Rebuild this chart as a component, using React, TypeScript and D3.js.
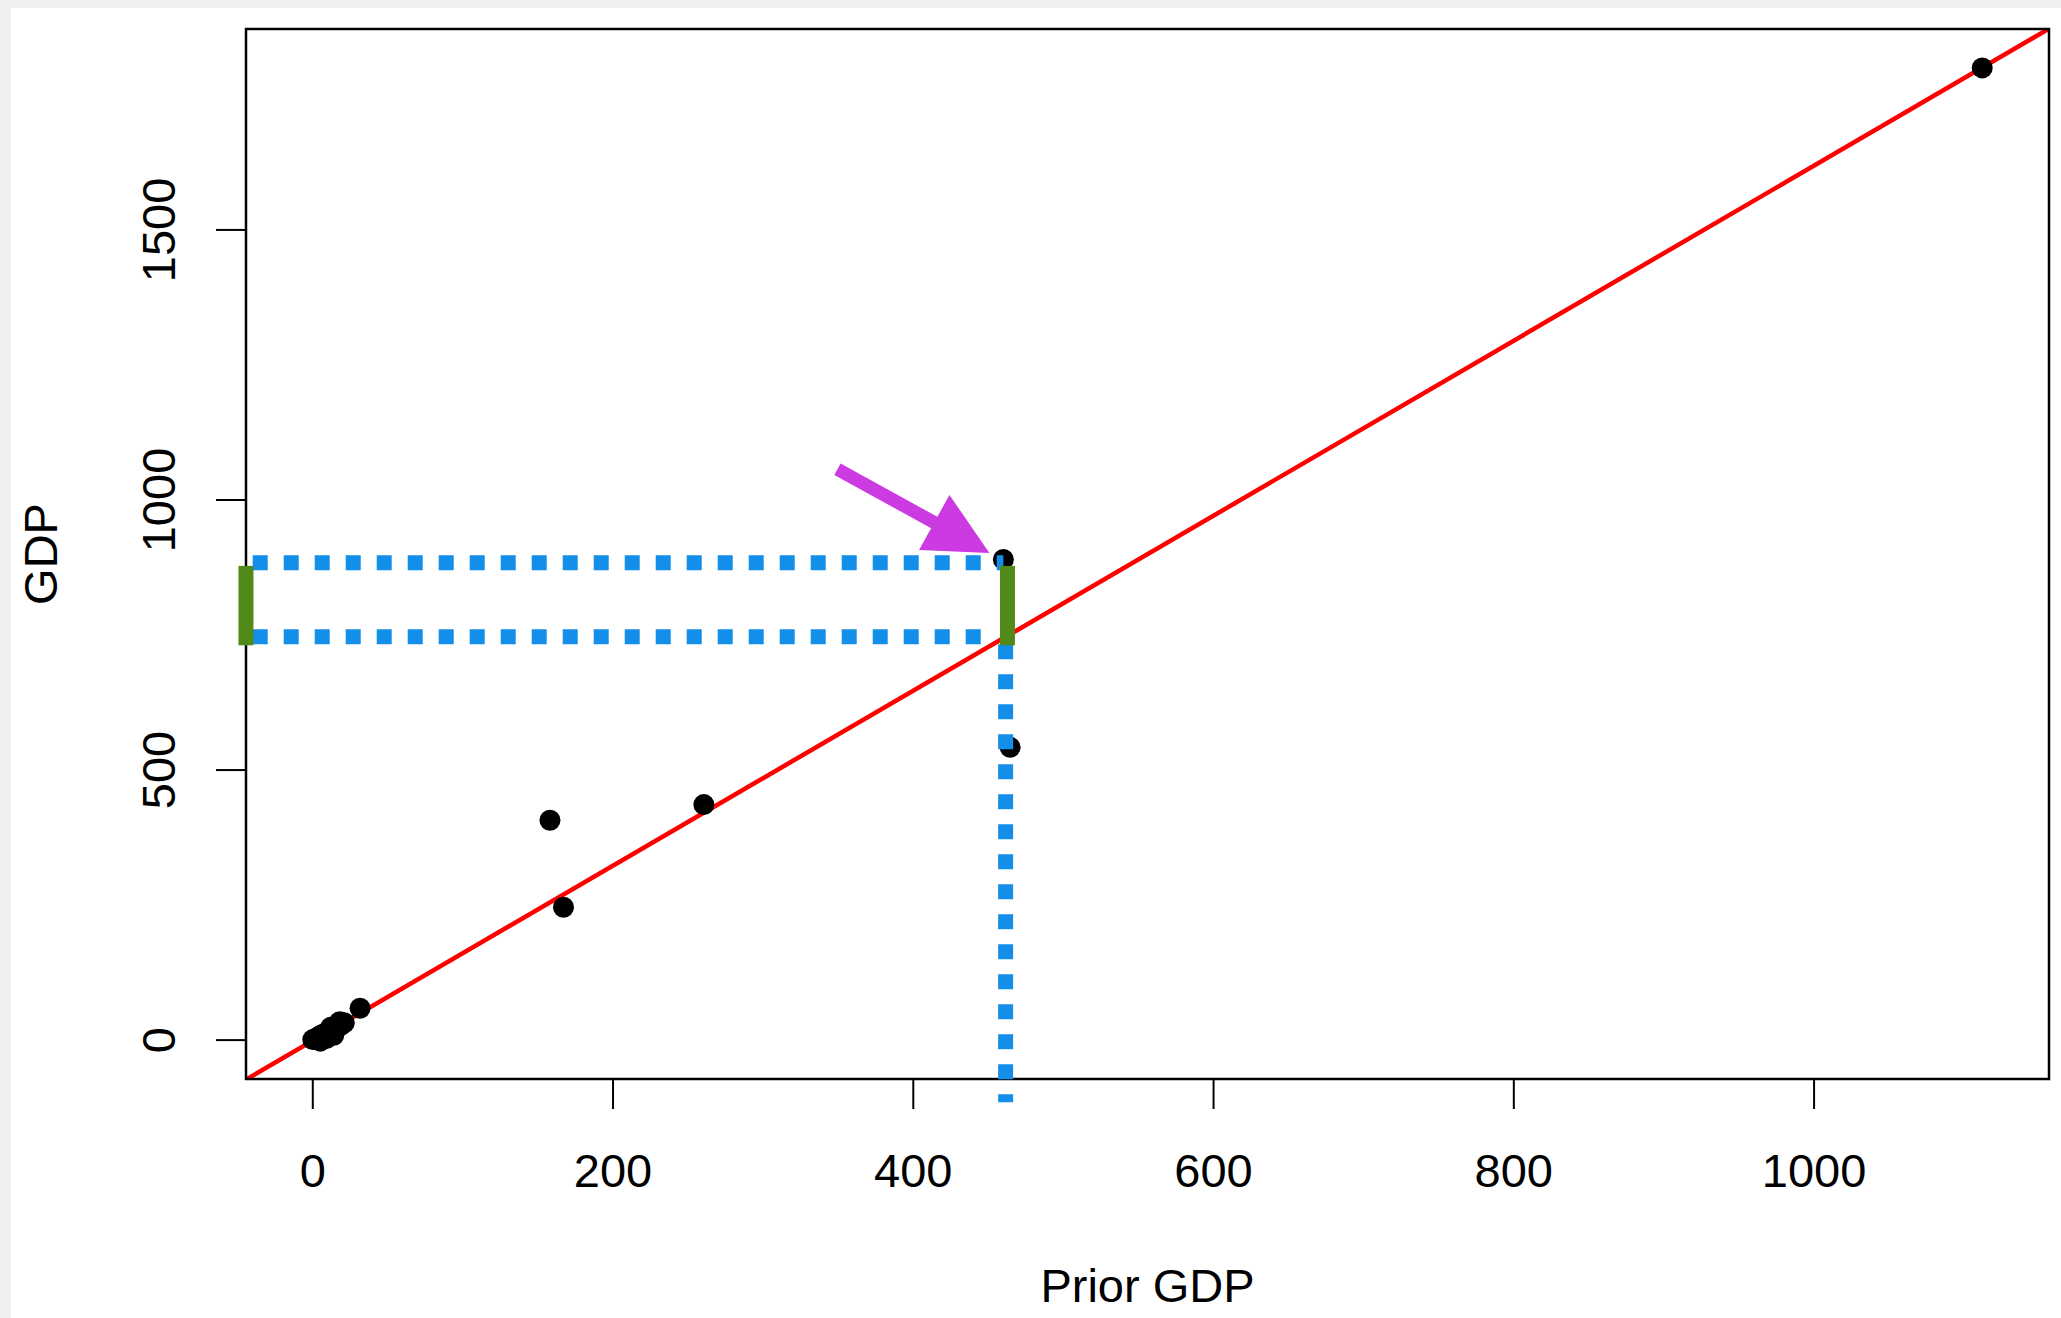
import React from "react";
import * as d3 from "d3";

// observed points (prior GDP vs GDP)
const priorGdp = [0, 1.5, 3, 4.5, 6, 8, 9.5, 11.5, 13.5, 16, 18.5, 21, 5, 9, 14, 12, 18, 31.5, 158, 167, 260.5, 460, 464.5, 1112];
const gdp = [1, 2, 5, 7, 10, 12, 15, 17, 21, 24, 27, 32, -2, 3, 9, 24, 34, 59, 407, 246, 436, 890, 542, 1800];

const xTicks = [0, 200, 400, 600, 800, 1000];
const yTicks = [0, 500, 1000, 1500];

// fitted line GDP = a + b * prior
const fitIntercept = -1;
const fitSlope = 1.62;

// annotation, in data units
const guideX = 461.5;
const observedY = 884;
const guideStartX = -40;
const guideEndX = [460, 455];
const guideBottomY = -115;
const barX = [-44.5, 462.7];
const barY = [731, 878];
const arrowFrom = [349.5, 1057];
const arrowTo = [450.7, 902];

const W = 2061;
const H = 1318;
const margin = { left: 246, right: 12, top: 29, bottom: 239 };
const FONT = "'Liberation Sans', Arial, Helvetica, sans-serif";

const pad = (lo: number, hi: number) => {
  const d = (hi - lo) * 0.04;
  return [lo - d, hi + d];
};

const App = () => {
  const x = d3
    .scaleLinear()
    .domain(pad(0, d3.max(priorGdp) ?? 1))
    .range([margin.left, W - margin.right]);
  const y = d3
    .scaleLinear()
    .domain(pad(0, d3.max(gdp) ?? 1))
    .range([H - margin.bottom, margin.top]);

  const [x0, x1] = x.range();
  const [yb, yt] = y.range();
  const fit = (v: number) => fitIntercept + fitSlope * v;
  const [dx0, dx1] = x.domain();

  const line = d3
    .line<number>()
    .x((d) => x(d))
    .y((d) => y(fit(d)));

  // arrow polygon
  const tx = x(arrowTo[0]);
  const ty = y(arrowTo[1]);
  const fx = x(arrowFrom[0]);
  const fy = y(arrowFrom[1]);
  const len = Math.hypot(tx - fx, ty - fy);
  const ux = (tx - fx) / len;
  const uy = (ty - fy) / len;
  const nx = -uy;
  const ny = ux;
  const headLen = 63;
  const headW = 31.5;
  const shaftW = 6.5;
  const bx = tx - headLen * ux;
  const by = ty - headLen * uy;
  const arrowPts = [
    [fx + nx * shaftW, fy + ny * shaftW],
    [bx + nx * shaftW, by + ny * shaftW],
    [bx + nx * headW, by + ny * headW],
    [tx, ty],
    [bx - nx * headW, by - ny * headW],
    [bx - nx * shaftW, by - ny * shaftW],
    [fx - nx * shaftW, fy - ny * shaftW],
  ]
    .map((p) => p.join(","))
    .join(" ");

  const blue = "#138FEA";
  const fitPx = y(fit(guideX));

  return (
    <svg
      width={W}
      height={H}
      style={{ position: "absolute", left: 0, top: 0, fontFamily: FONT }}
    >
      <rect width={W} height={H} fill="#eff0f2" />
      <rect x={11} y={8} width={W - 11} height={H - 8} fill="#ffffff" />

      <defs>
        <clipPath id="plot-area">
          <rect x={x0} y={yt} width={x1 - x0} height={yb - yt} />
        </clipPath>
      </defs>

      {/* fitted line */}
      <path
        d={line([dx0, dx1]) ?? ""}
        stroke="#ff0000"
        strokeWidth={4.5}
        fill="none"
        clipPath="url(#plot-area)"
      />

      {/* points */}
      {priorGdp.map((v, i) => (
        <circle key={i} cx={x(v)} cy={y(gdp[i])} r={10.5} fill="#000" />
      ))}

      {/* plot box */}
      <rect x={x0} y={yt} width={x1 - x0} height={yb - yt} fill="none" stroke="#000" strokeWidth={2.5} />

      {/* x axis */}
      {xTicks.map((t) => (
        <g key={t}>
          <line x1={x(t)} x2={x(t)} y1={yb} y2={yb + 30} stroke="#000" strokeWidth={2} />
          <text x={x(t)} y={yb + 108} textAnchor="middle" fontSize={47} fill="#000">
            {t}
          </text>
        </g>
      ))}
      <text x={(x0 + x1) / 2} y={1302} textAnchor="middle" fontSize={47} fill="#000">
        Prior GDP
      </text>

      {/* y axis */}
      {yTicks.map((t) => (
        <g key={t}>
          <line x1={x0 - 30} x2={x0} y1={y(t)} y2={y(t)} stroke="#000" strokeWidth={2} />
          <text
            transform={`translate(175,${y(t)}) rotate(-90)`}
            textAnchor="middle"
            fontSize={47}
            fill="#000"
          >
            {t}
          </text>
        </g>
      ))}
      <text
        transform={`translate(56.5,${(yb + yt) / 2}) rotate(-90)`}
        textAnchor="middle"
        fontSize={47}
        fill="#000"
      >
        GDP
      </text>

      {/* dotted guides */}
      <line
        x1={x(guideStartX)}
        x2={x(guideEndX[0])}
        y1={y(observedY)}
        y2={y(observedY)}
        stroke={blue}
        strokeWidth={15}
        strokeDasharray="15 16"
      />
      <line
        x1={x(guideStartX)}
        x2={x(guideEndX[1])}
        y1={fitPx}
        y2={fitPx}
        stroke={blue}
        strokeWidth={15}
        strokeDasharray="15 16"
      />
      <line
        x1={x(guideX)}
        x2={x(guideX)}
        y1={fitPx + 7.5}
        y2={y(guideBottomY)}
        stroke={blue}
        strokeWidth={15}
        strokeDasharray="15 15"
      />

      {/* residual bars */}
      {barX.map((bxv, i) => (
        <rect
          key={i}
          x={x(bxv) - 7.5}
          y={y(barY[1])}
          width={15}
          height={y(barY[0]) - y(barY[1])}
          fill="#528A19"
        />
      ))}

      {/* arrow */}
      <polygon points={arrowPts} fill="#CC3AE2" />
    </svg>
  );
};

export default App;
